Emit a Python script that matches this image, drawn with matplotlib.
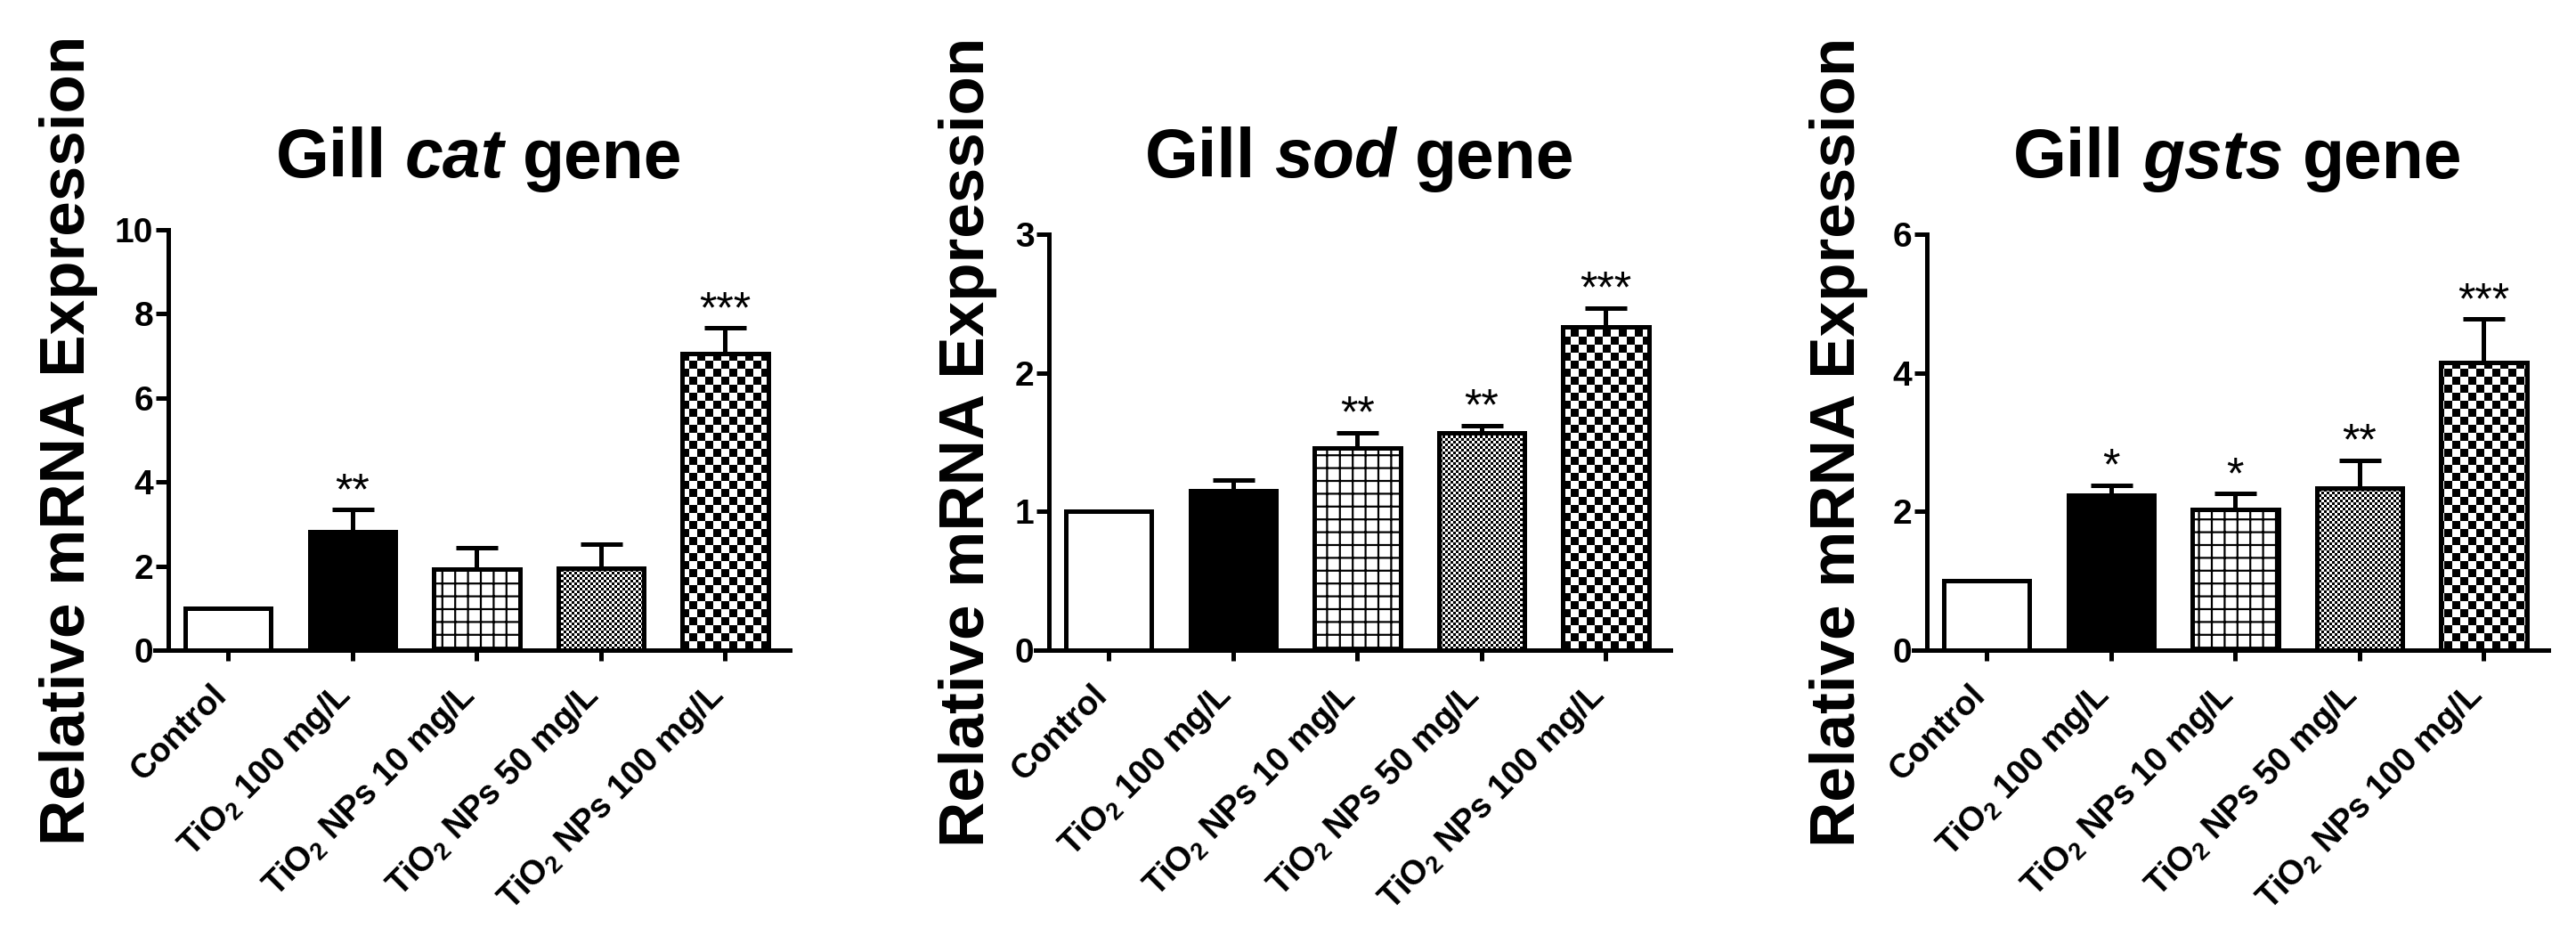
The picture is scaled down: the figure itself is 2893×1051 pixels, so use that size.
import numpy as np
import matplotlib
matplotlib.use("Agg")
import matplotlib.pyplot as plt
import matplotlib.hatch as mhatch
from matplotlib.path import Path
from matplotlib.offsetbox import TextArea, HPacker, AnnotationBbox

# ---------------- data ----------------
categories = ["Control", "TiO$_2$ 100 mg/L", "TiO$_2$ NPs 10 mg/L",
              "TiO$_2$ NPs 50 mg/L", "TiO$_2$ NPs 100 mg/L"]
genes = ["cat", "sod", "gsts"]

cat_mean = [1.0, 2.82, 1.92, 1.95, 7.06]
cat_err = [0.0, 0.52, 0.52, 0.57, 0.60]
cat_stars = ["", "**", "", "", "***"]
cat_yticks = [0, 2, 4, 6, 8, 10]

sod_mean = [1.0, 1.15, 1.46, 1.57, 2.33]
sod_err = [0.0, 0.075, 0.11, 0.05, 0.14]
sod_stars = ["", "", "**", "**", "***"]
sod_yticks = [0, 1, 2, 3]

gsts_mean = [1.0, 2.23, 2.03, 2.34, 4.15]
gsts_err = [0.0, 0.15, 0.23, 0.40, 0.63]
gsts_stars = ["", "*", "*", "**", "***"]
gsts_yticks = [0, 2, 4, 6]

ylabel = "Relative mRNA Expression"

# ---------------- style ----------------
face_colors = ["white", "black", "white", "white", "white"]
hatches = [None, None, "+", "x", "o"]

plt.rcParams['font.family'] = ['Liberation Sans', 'DejaVu Sans']
plt.rcParams['mathtext.fontset'] = 'custom'
plt.rcParams['mathtext.rm'] = 'Liberation Sans:bold'
plt.rcParams['mathtext.it'] = 'Liberation Sans:bold:italic'
plt.rcParams['mathtext.bf'] = 'Liberation Sans:bold'
plt.rcParams['mathtext.default'] = 'rm'
plt.rcParams['hatch.linewidth'] = 0.0
plt.rcParams['hatch.color'] = 'black'


# custom filled hatch patterns (grid, fine checker, coarse checker)
def _rect(x0, y0, x1, y1):
    return [(x0, y0), (x1, y0), (x1, y1), (x0, y1), (x0, y0)]


class _FilledPattern(mhatch.HatchPatternBase):
    char = None

    def __init__(self, hatch, density):
        self.rects = self.build() if (hatch and self.char in hatch) else []
        self.num_vertices = 5 * len(self.rects)

    def set_vertices_and_codes(self, vertices, codes):
        vertices[:] = np.array([p for r in self.rects for p in _rect(*r)])
        codes[:] = np.tile([Path.MOVETO, Path.LINETO, Path.LINETO,
                            Path.LINETO, Path.CLOSEPOLY], len(self.rects))


class GridPattern(_FilledPattern):
    char = '+'
    n = 5
    t = 2.2 / 72

    def build(self):
        rs = []
        for k in range(self.n):
            c = (k + 0.5) / self.n
            rs.append((0, c - self.t / 2, 1, c + self.t / 2))
            rs.append((c - self.t / 2, 0, c + self.t / 2, 1))
        return rs


class _Checker(_FilledPattern):
    n = 8

    def build(self):
        rs = []
        for i in range(self.n):
            for j in range(self.n):
                if (i + j) % 2 == 0:
                    rs.append((i / self.n, j / self.n,
                               (i + 1) / self.n, (j + 1) / self.n))
        return rs


class CheckerPattern(_Checker):
    char = 'o'
    n = 8


class FineCheckerPattern(_Checker):
    char = 'x'
    n = 24


mhatch._hatch_types[:] = [GridPattern, CheckerPattern, FineCheckerPattern]

# ---------------- layout (pixels) ----------------
FIG_W, FIG_H, DPI = 2893, 1051, 72
panel_left_px = [174, 1163, 2149]
axes_width_px = 713
axes_bottom_px = 730
axes_top_px = [258, 263, 263]
ylabel_x_px = [77, 1087, 2065]
title_y_px = 179
XMIN, XMAX, YAXIS_X = -0.59, 4.52, -0.48

fig = plt.figure(figsize=(FIG_W / DPI, FIG_H / DPI), dpi=DPI)

panels = [
    ("cat", cat_mean, cat_err, cat_stars, cat_yticks),
    ("sod", sod_mean, sod_err, sod_stars, sod_yticks),
    ("gsts", gsts_mean, gsts_err, gsts_stars, gsts_yticks),
]

for i, (gene, means, errs, stars, yticks) in enumerate(panels):
    left = panel_left_px[i] / FIG_W
    bottom = (FIG_H - axes_bottom_px) / FIG_H
    height = (axes_bottom_px - axes_top_px[i]) / FIG_H
    ax = fig.add_axes([left, bottom, axes_width_px / FIG_W, height])

    x = np.arange(len(categories))
    means = np.asarray(means)
    errs = np.asarray(errs)
    bars = ax.bar(x, means, width=0.69, color=face_colors, edgecolor='black',
                  linewidth=5, zorder=2)
    for b, h in zip(bars, hatches):
        if h:
            b.set_hatch(h)

    idx = np.where(errs > 0)[0]
    ax.errorbar(x[idx], means[idx], yerr=[np.zeros(len(idx)), errs[idx]],
                fmt='none', ecolor='black', elinewidth=5, capsize=23.5,
                capthick=5, zorder=3)

    for k in range(len(categories)):
        if stars[k]:
            ax.annotate(stars[k], (x[k], means[k] + errs[k]),
                        xytext=(0, 6), textcoords='offset points',
                        ha='center', va='baseline', fontsize=50, zorder=4)

    ax.set_xlim(XMIN, XMAX)
    ax.set_ylim(0, yticks[-1])
    for s in ('top', 'right'):
        ax.spines[s].set_visible(False)
    ax.spines['left'].set_position(('data', YAXIS_X))
    ax.spines['left'].set_linewidth(5)
    ax.spines['bottom'].set_linewidth(5)

    ax.set_yticks(yticks)
    ax.set_yticklabels([str(t) for t in yticks], fontsize=39, fontweight='bold')
    ax.tick_params(axis='y', direction='out', length=14, width=5, pad=3)
    ax.set_xticks(x)
    ax.set_xticklabels(categories, rotation=45, ha='right', va='baseline',
                       rotation_mode='anchor', fontsize=38, fontweight='bold')
    ax.tick_params(axis='x', direction='out', length=12, width=5, pad=40)

    ax.set_ylabel(ylabel, fontsize=71, fontweight='bold')
    ax.yaxis.label.set_va('center')
    ax.yaxis.set_label_coords((ylabel_x_px[i] - panel_left_px[i]) / axes_width_px, 0.5)

    parts = [TextArea("Gill", textprops=dict(fontsize=77, fontweight='bold')),
             TextArea(gene, textprops=dict(fontsize=77, fontweight='bold',
                                           fontstyle='italic')),
             TextArea("gene", textprops=dict(fontsize=77, fontweight='bold'))]
    packer = HPacker(children=parts, align='baseline', pad=0, sep=21)
    ab = AnnotationBbox(packer, ((YAXIS_X + XMAX) / 2, (FIG_H - title_y_px) / FIG_H),
                        xycoords=('data', 'figure fraction'), frameon=False,
                        box_alignment=(0.5, 0.5), pad=0, annotation_clip=False)
    ax.add_artist(ab)

fig.savefig("out.png", dpi=DPI, facecolor='white')
